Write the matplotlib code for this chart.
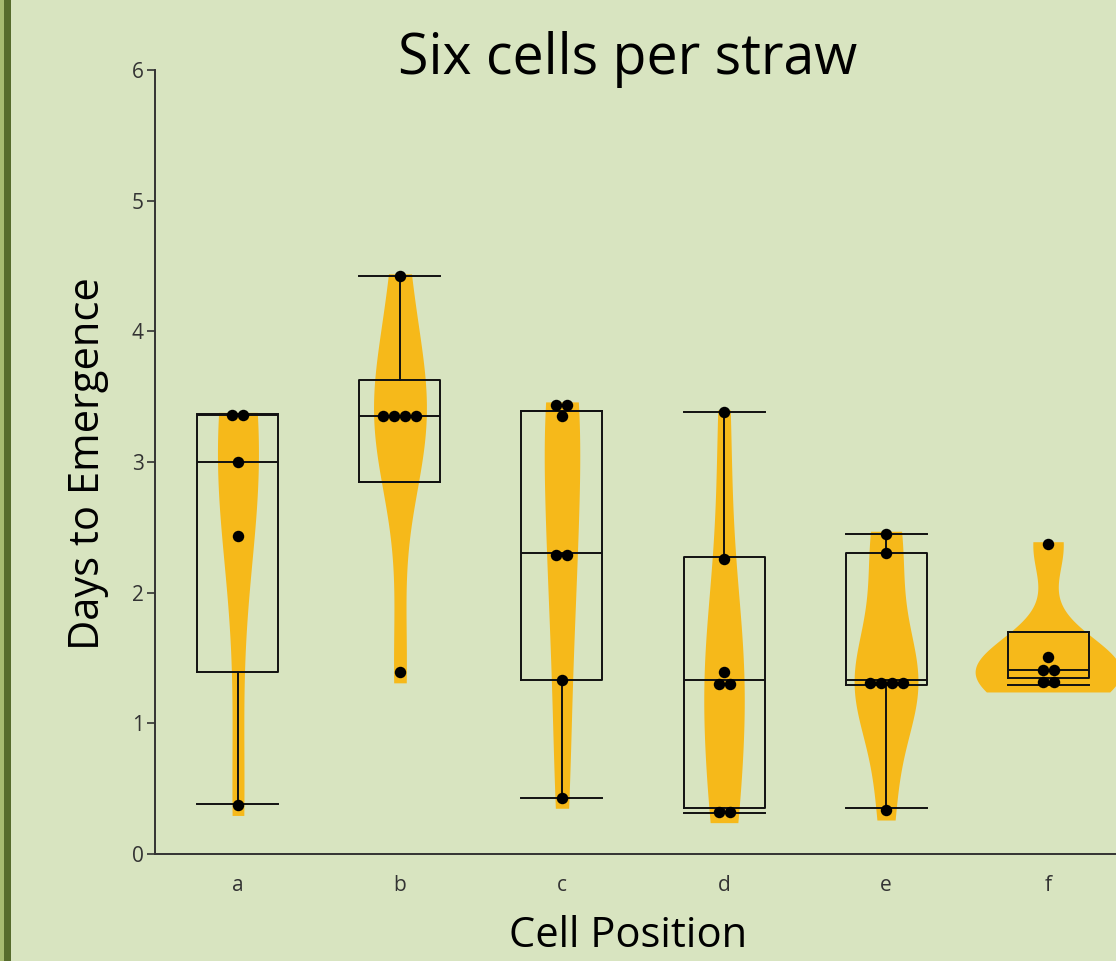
import matplotlib
matplotlib.use("Agg")
import matplotlib.pyplot as plt
from matplotlib.patches import Rectangle
import numpy as np

# values (days)
cells = ["a", "b", "c", "d", "e", "f"]
a_days = [0.375, 2.43, 3.00, 3.36, 3.36]
b_days = [1.39, 3.35, 3.35, 3.35, 3.35, 4.42]
c_days = [0.43, 1.33, 2.29, 2.29, 3.35, 3.44, 3.44]
d_days = [0.32, 0.32, 1.30, 1.30, 1.39, 2.26, 3.38]
e_days = [0.34, 1.31, 1.31, 1.31, 1.31, 2.30, 2.45]
f_days = [1.32, 1.32, 1.41, 1.41, 1.51, 2.37]

# box summary as drawn in the reference
box_q1 = [1.39, 2.85, 1.33, 0.35, 1.29, 1.35]
box_med = [3.00, 3.35, 2.30, 1.33, 1.33, 1.41]
box_q3 = [3.36, 3.63, 3.39, 2.27, 2.30, 1.70]
whisk_lo = [0.38, 2.85, 0.43, 0.31, 0.35, 1.29]
whisk_hi = [3.37, 4.42, 3.39, 3.38, 2.45, 1.70]

groups = [a_days, b_days, c_days, d_days, e_days, f_days]

BG = "#d8e4c0"
VIOLIN = "#f6b91a"
INK = "#111111"

plt.rcParams["font.family"] = ["Open Sans", "DejaVu Sans"]


def silverman(x):
    x = np.asarray(x, dtype=float)
    return 0.9 * x.std(ddof=1) * len(x) ** -0.2


def kde(x, grid):
    x = np.asarray(x, dtype=float)
    bw = silverman(x)
    z = (grid[:, None] - x[None, :]) / bw
    return np.exp(-0.5 * z ** 2).sum(axis=1) / (len(x) * bw * np.sqrt(2 * np.pi))


fig = plt.figure(figsize=(11.16, 9.61), dpi=100)
fig.patch.set_facecolor(BG)
# left border strip
fig.patches.append(Rectangle((0, 0), 4 / 1116, 1, transform=fig.transFigure,
                             facecolor="#a6ba70", edgecolor="none"))
fig.patches.append(Rectangle((4 / 1116, 0), 7 / 1116, 1, transform=fig.transFigure,
                             facecolor="#566b2c", edgecolor="none"))

ax = fig.add_axes([155 / 1116, 107 / 961, 976 / 1116, 784 / 961])
ax.set_facecolor("none")

pos = np.arange(1, len(cells) + 1)

# violins, area scaled so the widest one is 0.9 wide
curves = []
for vals in groups:
    grid = np.linspace(min(vals) - 0.08, max(vals) + 0.02, 300)
    curves.append((grid, kde(vals, grid)))
dmax = max(d.max() for _, d in curves)
for p, (grid, dens) in zip(pos, curves):
    half = 0.45 * dens / dmax
    ax.fill_betweenx(grid, p - half, p + half, color=VIOLIN, lw=0, zorder=1)

# boxes
stats = []
for i in range(len(cells)):
    stats.append(dict(q1=box_q1[i], med=box_med[i], q3=box_q3[i],
                      whislo=whisk_lo[i], whishi=whisk_hi[i], fliers=[]))
line = dict(color=INK, linewidth=1.4)
ax.bxp(stats, positions=pos, widths=0.5, capwidths=0.5, showfliers=False,
       boxprops=line, whiskerprops=line, capprops=line, medianprops=line,
       manage_ticks=False, zorder=2)

# dots, tied values laid side by side
step = 0.068
for p, vals in zip(pos, groups):
    uniq, counts = np.unique(vals, return_counts=True)
    for v, k in zip(uniq, counts):
        xs = p + (np.arange(k) - (k - 1) / 2) * step
        ax.scatter(xs, [v] * k, s=68, color="black", lw=0, zorder=3)

ax.set_xlim(0.488, 6.512)
ax.set_ylim(0, 6)
ax.set_xticks(pos)
ax.set_xticklabels(cells)
ax.set_yticks(range(0, 7))
for s in ["top", "right"]:
    ax.spines[s].set_visible(False)
for s in ["left", "bottom"]:
    ax.spines[s].set_color("#333333")
    ax.spines[s].set_linewidth(1.4)
ax.tick_params(axis="y", length=6, width=1.2, color="#333333",
               labelsize=15, labelcolor="#333333", pad=2)
ax.tick_params(axis="x", length=0, labelsize=15, labelcolor="#333333", pad=15)

fig.text(628 / 1116, 1 - 60 / 961, "Six cells per straw", ha="center", va="center",
         fontsize=40, color="black")
fig.text(628 / 1116, 1 - 936 / 961, "Cell Position", ha="center", va="center",
         fontsize=30, color="black")
fig.text(88 / 1116, 1 - 464 / 961, "Days to Emergence", ha="center", va="center",
         rotation=90, fontsize=30, color="black")

fig.savefig("out.png", dpi=100, facecolor=BG)
